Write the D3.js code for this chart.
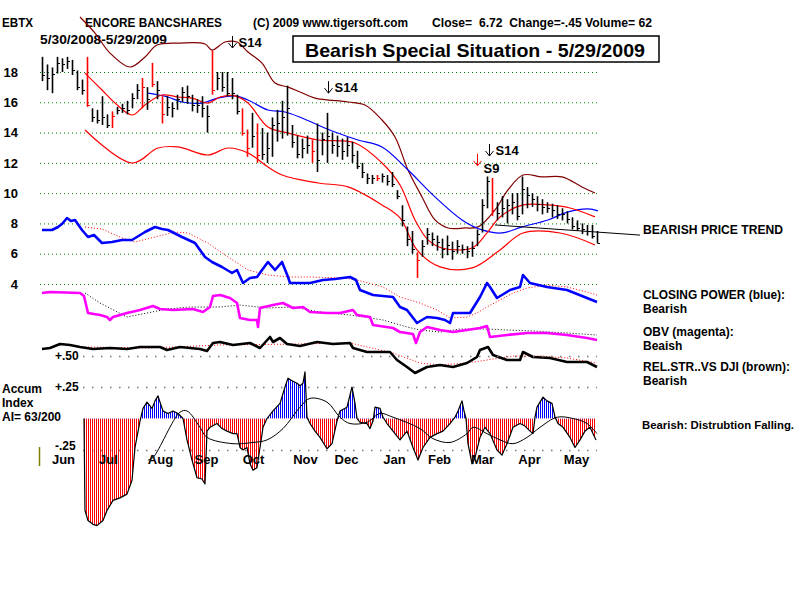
<!DOCTYPE html>
<html><head><meta charset="utf-8">
<script src="https://cdn.jsdelivr.net/npm/d3@7"></script>
<style>
body{margin:0;background:#fff;}
text{font-family:"Liberation Sans",Arial,sans-serif;font-weight:bold;fill:#000;}
</style></head>
<body><svg id="c" width="800" height="600"></svg>
<script>
// ---------- DATA ----------
const priceTicks = [18,16,14,12,10,8,6,4];
const months = ["Jun","Jul","Aug","Sep","Oct","Nov","Dec","Jan","Feb","Mar","Apr","May"];
const monthIdx = [4.2,13.2,23.6,32.8,42.2,52.6,60.8,70.4,79.4,88,97.4,106.8];
const hi = [19.0,18.5,18.3,19.0,18.9,19.0,18.8,18.1,17.5,19.0,15.6,15.5,16.4,15.2,15.4,15.7,15.9,16.1,16.6,17.2,
  17.6,17.0,18.6,17.4,16.4,16.4,16.0,16.5,17.0,17.1,16.5,16.2,16.4,15.8,19.4,18.0,18.0,18.0,17.6,16.5,
  15.6,14.2,15.3,14.6,14.3,14.0,15.0,15.5,16.1,17.1,14.5,13.8,13.6,13.8,13.5,14.6,14.0,15.3,14.0,13.8,
  13.6,13.7,13.4,12.8,12.0,11.3,11.2,11.2,11.3,11.2,11.4,10.2,9.2,7.8,7.5,6.1,6.9,7.7,7.4,7.2,
  7.0,7.2,6.8,6.9,6.6,6.5,6.8,7.6,9.6,11.1,11.0,9.4,9.8,9.6,10.0,10.0,11.1,10.4,10.0,9.8,
  9.6,9.4,9.3,9.2,9.0,8.8,8.4,8.2,8.0,7.9,7.9,7.5];
const lo = [17.4,16.8,16.6,17.9,18.0,18.2,17.8,16.8,16.5,15.7,14.7,14.6,14.5,14.3,14.3,15.2,15.3,15.2,15.6,16.2,
  15.6,15.5,17.0,16.2,14.6,15.1,15.0,15.5,16.0,15.9,15.4,15.3,15.0,14.0,16.5,16.8,16.7,16.4,16.2,15.2,
  13.8,12.4,13.0,12.0,12.2,12.0,12.4,13.4,13.6,13.8,13.0,12.3,12.3,12.6,12.0,11.4,12.5,12.0,12.6,12.4,
  12.2,12.4,12.0,11.6,11.0,10.6,10.6,10.8,10.7,10.5,10.4,9.6,7.8,6.5,6.0,4.4,5.8,6.6,6.5,6.2,
  5.7,5.9,5.6,6.0,6.0,5.7,5.8,6.5,7.4,9.0,8.5,8.2,8.4,8.0,8.6,8.2,8.6,9.0,9.1,8.8,
  8.6,8.7,8.4,8.3,8.2,8.0,7.6,7.5,7.3,7.2,7.0,6.7];
const cl = [17.8,17.6,17.9,18.6,18.5,18.7,18.1,17.0,16.8,15.8,15.0,14.8,15.0,14.5,15.1,15.5,15.6,15.5,16.3,16.8,
  17.0,16.2,17.2,16.8,15.2,15.7,15.6,16.2,16.7,16.4,15.8,15.8,15.6,15.1,16.8,17.6,17.0,16.6,16.6,15.4,
  14.0,13.0,13.8,12.5,12.6,13.0,14.5,14.6,15.0,15.6,13.4,12.6,13.0,13.2,12.8,12.2,13.6,13.8,13.2,13.1,
  12.8,13.2,12.5,11.8,11.4,11.0,11.0,11.0,11.1,10.8,10.6,9.8,8.2,7.0,6.3,5.6,6.5,7.3,7.0,6.8,
  6.3,6.6,6.2,6.5,6.3,6.2,6.4,7.3,9.2,10.8,8.9,8.7,9.0,9.2,9.4,8.5,10.3,9.9,9.6,9.3,
  9.1,9.0,8.9,8.6,8.6,8.3,7.8,7.7,7.6,7.5,7.2,6.72];
const redBars = [9,14,20,22,24,34,40,41,43,54,67,75,90];
const upperBand = [[7.6,21.63],[10.6,20.57],[13.6,19.25],[17.6,18.33],[20.6,18.99],[23,19.78],[27.6,19.91],[32.6,19.85],
  [34,19.45],[36.6,19.98],[39,19.98],[41.2,19.32],[44,18.59],[46.6,17.27],[49.2,17.0],[51.6,16.68],[54.6,16.28],
  [61.2,16.02],[64.6,15.82],[68,14.83],[70.6,13.71],[73.2,11.53],[76,9.75],[78.6,8.23],[81.2,7.70],[84.6,7.70],
  [87.2,7.77],[90.6,8.89],[93.2,10.21],[96.2,11.20],[100,11.07],[104,11.07],[108,10.41],[110.6,10.01]];
const midBand = [[8.6,17.93],[12,16.81],[14.6,15.95],[18,15.16],[20.6,15.82],[24,16.48],[27.2,16.35],[30,16.28],
  [33.2,15.95],[35.6,16.35],[38.6,16.42],[41.2,15.95],[45.2,14.37],[49.2,13.97],[55.2,13.51],[62.6,13.31],[68,11.99],
  [71.6,10.54],[74.6,8.23],[77.2,6.91],[80,6.38],[86,6.38],[89,7.37],[91.6,8.43],[96.2,9.22],[101.2,9.22],[105.6,9.02],[110.6,8.43]];
const lowerBand = [[8.6,14.17],[18,11.99],[23.2,12.98],[27.2,13.05],[33.2,12.52],[37.2,12.98],[41.2,12.65],[45.2,11.73],
  [48,11.20],[55.2,10.67],[61.2,10.41],[68,9.22],[71.6,8.36],[75,6.25],[79.6,5.13],[86,5.06],[91.6,6.25],[96.2,7.37],
  [103.6,7.37],[110.6,6.58]];
const blueMA = [[21.2,16.61],[25.2,16.35],[28,16.02],[32,15.95],[35.2,16.28],[38.6,16.42],[41.2,16.15],[45.2,15.49],
  [48.6,15.36],[52,14.96],[55.2,14.50],[58.6,14.04],[63.2,13.51],[68,13.05],[73.2,11.53],[78.6,9.75],[84,8.23],
  [88,7.57],[92,7.37],[96,7.77],[101.2,8.23],[105.2,8.76],[109.2,8.96],[111.2,8.83]];
const trendLine = [[90.6,7.90],[119.6,7.23]];
// signal arrows: bar position, price at arrow centre, label
const signals = [{i:38,p:19.98,label:"S14",red:false},{i:57.2,p:17.0,label:"S14",red:false},
  {i:89.4,p:12.85,label:"S14",red:false},{i:87,p:12.2,label:"S9",red:true}];
const cpLine = [[0,100],[2,100],[3.2,103],[4,106],[5,112],[5.8,109],[6.6,110],[8,100],[9.2,93],[10.4,95],[12,87],[14,88],
  [16,90],[18,90],[20.6,98],[22.6,103],[24,101],[25.2,100],[28,93],[30.6,87],[32.6,73],[34,68],[36,63],[38,57],[39,60],
  [40.2,47],[41.6,52],[43,53],[44,60],[45.2,68],[46.6,60],[48,68],[49.2,53],[49.6,47],[51.6,47],[53.6,47],[56.2,50],
  [58.6,51],[61.6,53],[62.8,50],[63.6,40],[66.2,35],[70.2,33],[71.6,23],[73,20],[75,7],[77,13],[79,12],[80.6,10],
  [81.6,7],[82.2,17],[85.6,17],[87.6,33],[89,47],[89.6,43],[91,32],[93.6,40],[95.6,43],[96.2,55],[97.6,47],[101,43],
  [105,40],[109,32],[111,28]];
const cpMA = [[8.6,103],[12,101],[16,92],[18.6,88],[22.6,93],[26.6,98],[29.2,97],[33.2,87],[37.2,73],[41.2,60],[45.2,55],
  [49.6,53],[53.6,53],[60.2,52],[63,50],[68.2,43],[71.6,33],[75.6,27],[79,20],[81.6,12],[85,13],[87,17],[89,23],
  [91.6,30],[94.2,37],[97,42],[101,45],[105,43],[109,38],[111,35]];
const obvLine = [[0,57],[1.6,58],[7.6,57],[8.4,54],[9.2,37],[11.6,35],[13,33],[13.6,30],[14.2,33],[17,37],[19.6,40],
  [22.2,44],[23.6,41],[26.2,40],[30.2,41],[32.2,38],[33.6,43],[34.2,54],[35.6,55],[37.6,52],[39,47],[39.6,32],[41.6,30],
  [43,30],[43.2,23],[43.6,42],[46.2,45],[48.2,47],[50.2,42],[52.2,43],[53.6,38],[57,37],[59.6,37],[62.2,40],[63,35],
  [65.6,33],[66.2,25],[70.2,22],[71.6,18],[74.2,16],[74.8,7],[75.6,18],[77,23],[79.6,20],[82.2,18],[85,20],[87.6,22],
  [89,24],[89.6,13],[93,15],[97,17],[101,17],[105,15],[109,12],[111,10]];
const obvMA = [[8.6,57],[11.6,47],[17,33],[21,37],[25,41],[29.6,43],[35.6,43],[39.6,45],[45,42],[50.2,43],[55.6,38],
  [61.6,35],[68.2,30],[73,23],[75.6,20],[79.6,18],[83.6,21],[89,21],[93,20],[98.2,19],[105,17],[111,15]];
const rsLine = [[0,31],[1.6,32],[3.6,36],[5.6,35],[7.6,33],[10.2,31],[13.6,32],[17,31],[19.6,33],[23.6,33],[25,30],
  [27.6,33],[31.6,31],[33,29],[34.2,37],[35.6,38],[38.2,35],[41.6,37],[43.6,32],[45.6,43],[46.2,38],[47.6,42],[49,36],
  [51.6,34],[55,38],[58.2,36],[61.6,37],[62.2,32],[65,28],[69.6,28],[71,20],[73,13],[74.6,7],[77,13],[79.6,15],
  [82.2,13],[85,17],[87,23],[87.6,30],[89.2,33],[90.2,25],[93,20],[95.6,20],[96.2,28],[98.2,23],[101.6,22],[105,18],
  [109,18],[111,13]];
const rsMA = [[8.6,33],[21.6,32],[35.6,35],[51.6,36],[61.6,37],[65,33],[70.2,27],[75.6,17],[79.6,15],[85,17],[89,20],
  [94.2,24],[99.6,24],[105,22],[111,17]];
const aiLine = [[8.4,0],[8.6,-0.73],[9.2,-0.81],[10.2,-0.84],[11,-0.85],[11.6,-0.83],[12.2,-0.81],[13,-0.73],[14.2,-0.65],
  [15.6,-0.63],[17,-0.60],[18,-0.49],[18.6,-0.23],[19.6,-0.02],[20.2,0.08],[21,0.13],[21.6,0.10],[22,0.08],[22.6,0.14],
  [23.2,0.18],[23.6,0.13],[24.2,0.06],[25.2,0.04],[26.2,0.06],[27.2,0.04],[28.2,0],[29,-0.17],[30,-0.33],[31,-0.47],
  [32,-0.48],[32.6,-0.52],[33,-0.10],[33.6,-0.07],[35,-0.04],[36,-0.08],[37,-0.10],[38.2,-0.12],[39,-0.12],[39.6,-0.23],
  [40.2,-0.25],[41,-0.23],[41.6,-0.36],[42.2,-0.41],[43,-0.39],[43.6,-0.23],[44.2,-0.07],[45,0],[46.2,0.06],[47.6,0.12],
  [48.6,0.25],[49.2,0.32],[50,0.30],[51,0.28],[51.6,0.26],[52.2,0.28],[52.6,0.37],[53,0.01],[53.6,-0.04],[54.6,-0.10],
  [55.6,-0.15],[57,-0.24],[58,-0.20],[59,-0.02],[59.6,0.06],[61,0.09],[62,0.25],[62.6,0.12],[63,0],[63.6,-0.03],
  [65,-0.04],[65.6,-0.08],[66.2,-0.02],[66.6,0.09],[67.6,0.08],[68.2,0.01],[69,-0.04],[70.2,-0.10],[71.6,-0.17],
  [73,-0.10],[74.2,-0.23],[75.2,-0.33],[76.2,-0.23],[77.6,-0.15],[79,-0.12],[80.2,-0.10],[81.6,-0.04],[82.6,0.01],
  [83.2,0.06],[84,0.14],[84.4,0.06],[84.8,0],[85.2,-0.20],[86,-0.36],[86.6,-0.31],[87.6,-0.15],[88.6,-0.07],[89.6,-0.12],
  [91,-0.25],[92,-0.29],[93,-0.20],[94.2,-0.07],[95.6,-0.04],[96.6,-0.06],[97.6,-0.10],[98.2,-0.12],[98.6,0.01],
  [99,0.09],[99.6,0.13],[100.2,0.17],[101,0.14],[102,0.12],[102.6,0.01],[103.2,-0.04],[104.2,-0.07],[105.6,-0.15],
  [106.6,-0.23],[107.6,-0.17],[108.6,-0.10],[109.6,-0.07],[110.8,-0.17]];
const aiMA = [[21.2,-0.33],[22.2,-0.31],[27.6,0.05],[29,0.06],[31.6,-0.07],[33,-0.15],[38.2,-0.20],[42.2,-0.19],[45,-0.17],
  [48.2,-0.08],[51.6,0.09],[53.6,0.16],[57,0.13],[59.6,0.01],[61.6,-0.04],[65,-0.03],[67.6,0.04],[70.2,0.01],
  [75.6,-0.08],[78.2,-0.16],[81.6,-0.19],[85,-0.12],[86.2,-0.07],[89,-0.12],[91.6,-0.17],[94.2,-0.20],[97,-0.15],
  [99.6,-0.07],[103,0.01],[106.2,0],[109,-0.04],[111,-0.12]];
const aiTicks = [0.5,0.25,-0.25];
const aiTickLabels = ["+.50","+.25","-.25"];

// ---------- SCALES ----------
const svg = d3.select("#c");
const x = d3.scaleLinear().domain([0,111]).range([42,597]);
const yP = d3.scaleLinear().domain([4,18]).range([284,72]);
const yCP = d3.scaleLinear().domain([0,120]).range([330,210]);
const yOBV = d3.scaleLinear().domain([0,60]).range([350,290]);
const yRS = d3.scaleLinear().domain([0,40]).range([380,340]);
const yAI = d3.scaleLinear().domain([-0.25,0.25]).range([450,387]);

// defs
const defs = svg.append("defs");
[["redStripe","#ff0000"],["blueStripe","#0000ff"]].forEach(([id,c])=>{
  const p = defs.append("pattern").attr("id",id).attr("patternUnits","userSpaceOnUse").attr("width",2).attr("height",10);
  p.append("rect").attr("width",1).attr("height",10).attr("fill",c);
});
defs.append("clipPath").attr("id","clipNeg").append("rect").attr("x",0).attr("y",yAI(0)).attr("width",800).attr("height",200);
defs.append("clipPath").attr("id","clipPos").append("rect").attr("x",0).attr("y",300).attr("width",800).attr("height",yAI(0)-300);

function txt(s,xx,yy,size,len,anchor){
  const t = svg.append("text").attr("x",xx).attr("y",yy).attr("font-size",size).attr("xml:space","preserve").text(s);
  if(len) t.attr("textLength",len).attr("lengthAdjust","spacingAndGlyphs");
  if(anchor) t.attr("text-anchor",anchor);
  return t;
}
txt("EBTX",2,27,12,31);
txt("ENCORE BANCSHARES",85,27,12,137);
txt("(C) 2009 www.tigersoft.com",253,27,12,155);
txt("Close=  6.72  Change=-.45 Volume= 62",432,27,12,220);
txt("5/30/2008-5/29/2009",40,44,12,127);
svg.append("rect").attr("x",293).attr("y",36).attr("width",366).attr("height",26).attr("fill","none").attr("stroke","#000").attr("stroke-width",1.5);
txt("Bearish Special Situation - 5/29/2009",305,57,19,340);

// price grid + y axis
const yAxis = d3.axisLeft(yP).tickValues(priceTicks).tickSize(-557).tickPadding(22).tickFormat(d3.format("d"));
const ga = svg.append("g").attr("transform","translate(40,0)").call(yAxis);
ga.select(".domain").remove();
ga.selectAll(".tick line").attr("stroke","#008000").attr("stroke-dasharray","1,3");
ga.selectAll(".tick text").attr("font-size",13).attr("font-family","Liberation Sans, Arial, sans-serif").attr("font-weight","bold").attr("fill","#000");

// price overlays
const cr = d3.line().x(d=>x(d[0])).y(d=>yP(d[1])).curve(d3.curveCatmullRom);
svg.append("path").attr("d",cr(upperBand)).attr("fill","none").attr("stroke","#800000").attr("stroke-width",1.2);
svg.append("path").attr("d",cr(lowerBand)).attr("fill","none").attr("stroke","#ff0000").attr("stroke-width",1.2);
svg.append("path").attr("d",cr(blueMA)).attr("fill","none").attr("stroke","#0000ff").attr("stroke-width",1.2);
svg.append("path").attr("d",cr(midBand)).attr("fill","none").attr("stroke","#ff0000").attr("stroke-width",1.2);
svg.append("path").attr("d",d3.line().x(d=>x(d[0])).y(d=>yP(d[1]))(trendLine)).attr("fill","none").attr("stroke","#000").attr("stroke-width",1);

// bars
const idx = d3.range(hi.length);
const colorOf = i => redBars.includes(i) ? "#ff0000" : "#000";
svg.append("g").selectAll("line").data(idx).join("line")
  .attr("x1",i=>Math.round(x(i))+0.5).attr("x2",i=>Math.round(x(i))+0.5)
  .attr("y1",i=>yP(hi[i])).attr("y2",i=>yP(lo[i])).attr("stroke",colorOf).attr("stroke-width",1.6);
svg.append("g").selectAll("line").data(idx).join("line")
  .attr("x1",i=>Math.round(x(i))+0.5).attr("x2",i=>Math.round(x(i))+3)
  .attr("y1",i=>Math.round(yP(cl[i]))+0.5).attr("y2",i=>Math.round(yP(cl[i]))+0.5).attr("stroke",colorOf).attr("stroke-width",1);

// signals: arrow drawn as path, label as text
signals.forEach(s=>{
  const ax = Math.round(x(s.i))+0.5, ay = yP(s.p);
  const col = s.red ? "#ff0000" : "#000";
  svg.append("path").attr("d",`M${ax},${ay-6}V${ay+6}M${ax-4},${ay+1}L${ax},${ay+6}L${ax+4},${ay+1}`)
    .attr("fill","none").attr("stroke",col).attr("stroke-width",1);
  if(s.red) txt(s.label,ax+6,ay+13,13);
  else txt(s.label,ax+6,ay+5,13);
});

// lower indicator panels
const ln = (ys)=>d3.line().x(d=>x(d[0])).y(d=>ys(d[1]));
function draw(data, ys, color, w, dash){
  const p = svg.append("path").attr("d",ln(ys)(data)).attr("fill","none").attr("stroke",color).attr("stroke-width",w).attr("stroke-linejoin","round");
  if(dash) p.attr("stroke-dasharray",dash);
}
draw(cpMA,yCP,"#ff0000",1,"1,2");
draw(cpLine,yCP,"#0000ff",2.6);
draw(obvMA,yOBV,"#000",1,"1,2");
draw(obvLine,yOBV,"#ff00ff",2.6);
draw(rsMA,yRS,"#ff0000",1,"1,2");
draw(rsLine,yRS,"#000",2.6);

// AI reference lines and labels
aiTicks.forEach((v,k)=>{
  svg.append("line").attr("x1",83).attr("x2",597).attr("y1",Math.round(yAI(v))+0.5).attr("y2",Math.round(yAI(v))+0.5)
    .attr("stroke","#777").attr("stroke-width",1.5).attr("stroke-dasharray","1.5,7.5");
  txt(aiTickLabels[k],55,yAI(v)+(v<0?0:4),12);
});

// AI histogram
const area = d3.area().x(d=>x(d[0])).y0(yAI(0)).y1(d=>yAI(d[1]));
svg.append("path").attr("d",area(aiLine)).attr("fill","url(#redStripe)").attr("clip-path","url(#clipNeg)");
svg.append("path").attr("d",area(aiLine)).attr("fill","url(#blueStripe)").attr("clip-path","url(#clipPos)");
draw(aiLine,yAI,"#000",1.2);
svg.append("path").attr("d",d3.line().x(d=>x(d[0])).y(d=>yAI(d[1])).curve(d3.curveCatmullRom)(aiMA)).attr("fill","none").attr("stroke","#000").attr("stroke-width",1);

// month axis
const mAxis = d3.axisBottom(x).tickValues(monthIdx).tickSize(0).tickPadding(0).tickFormat((d,i)=>months[i]);
const gm = svg.append("g").attr("transform","translate(0,455)").call(mAxis);
gm.select(".domain").remove();
gm.selectAll(".tick text").attr("font-size",13).attr("font-family","Liberation Sans, Arial, sans-serif").attr("font-weight","bold").attr("fill","#000");

svg.append("line").attr("x1",39.5).attr("x2",39.5).attr("y1",447).attr("y2",466).attr("stroke","#808000").attr("stroke-width",1.5);

// left labels
txt("Accum",2,393,12);
txt("Index",2,407,12);
txt("AI= 63/200",2,421,12);

// right labels
txt("BEARISH PRICE TREND",643,234,12,140);
txt("CLOSING POWER (blue):",643,299,12,142);
txt("Bearish",643,313,12);
txt("OBV (magenta):",643,336,12);
txt("Beaish",643,350,12);
txt("REL.STR..VS DJI (brown):",643,371,12,147);
txt("Bearish",643,385,12);
txt("Bearish: Distrubtion Falling.",642,429,11,152);
</script></body></html>
